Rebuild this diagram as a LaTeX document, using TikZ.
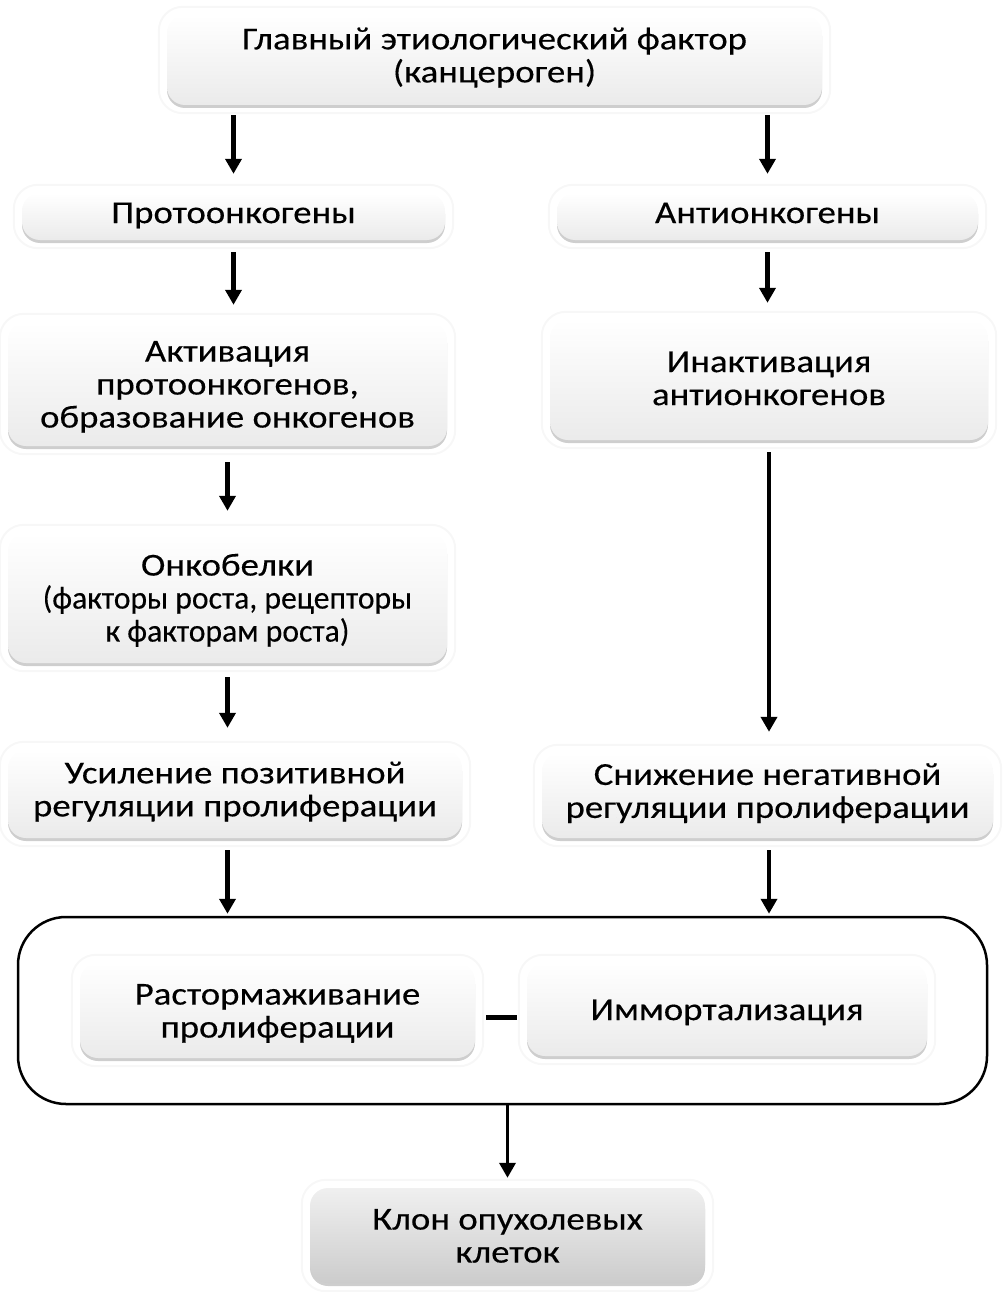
\documentclass[tikz,border=0pt]{standalone}
\usepackage{fontspec}
\usepackage{graphicx}
\setmainfont{Carlito}[FakeStretch=1.15,FakeBold=0.3]
\usetikzlibrary{shadows,arrows.meta,backgrounds}
\newcommand{\narrow}[1]{\scalebox{0.86}[1]{#1}}
\newcommand{\up}{\rule{0pt}{31pt}}
\newcommand{\upsmall}{\rule{0pt}{27pt}}
\begin{document}
\begin{tikzpicture}[x=1pt,y=-1pt,
  box/.style={rounded corners=18pt, top color=white, bottom color=gray!16,
    drop shadow={shadow xshift=0pt,shadow yshift=-3pt,opacity=.55,fill=gray!70},
    align=center, inner sep=0pt, font=\fontsize{32}{33}\selectfont,
    execute at begin node=\strut, execute at end node=\strut},
  darkbox/.style={box, top color=gray!12, bottom color=gray!40},
  arr/.style={-{Triangle[width=16pt,length=15pt]}, line width=4.5pt, black},
  halo/.style={draw=gray!6, line width=2pt, rounded corners=24pt}]
\useasboundingbox (0,0) rectangle (1003,1292);
\node[box, minimum width=655pt, minimum height=90pt] (top) at (494.5,60)
  {Главный этиологический фактор\\(канцероген)};
\node[box, minimum width=423pt, minimum height=47pt] (proto) at (233.5,216.5) {Протоонкогены};
\node[box, minimum width=421pt, minimum height=47pt] (anti) at (767.5,216.5) {Антионкогены};
\node[box, minimum width=439pt, minimum height=124pt] (activ) at (227.5,384)
  {\up Активация\\протоонкогенов,\\образование онкогенов};
\node[box, minimum width=438pt, minimum height=120pt] (inact) at (769,380)
  {\upsmall Инактивация\\антионкогенов};
\node[box, minimum width=439pt, minimum height=130pt] (onko) at (227.5,598)
  {\up Онкобелки\\\narrow{(факторы роста, рецепторы}\\\narrow{к факторам роста)}};
\node[box, minimum width=454pt, minimum height=88pt] (usil) at (235,794)
  {Усиление позитивной\\регуляции пролиферации};
\node[box, minimum width=451pt, minimum height=85pt] (snizh) at (767.5,795.5)
  {Снижение негативной\\регуляции пролиферации};
\node[draw, line width=2.5pt, rounded corners=48pt, minimum width=969pt, minimum height=187pt] (frame) at (502.5,1010.5) {};
\node[box, minimum width=395pt, minimum height=95pt] (rastor) at (277.5,1010.5)
  {\up Растормаживание\\пролиферации};
\node[box, minimum width=400pt, minimum height=93pt] (immort) at (727,1009.5) {\up Иммортализация};
\node[darkbox, minimum width=395pt, minimum height=95pt] (klon) at (507.5,1235.5)
  {\up Клон опухолевых\\клеток};
\begin{scope}[on background layer]
\foreach \n in {top,proto,anti,activ,inact,onko,usil,snizh,rastor,immort,klon}
  \draw[halo] ([shift={(-8pt,8pt)}]\n.north west) rectangle ([shift={(8pt,-8pt)}]\n.south east);
\end{scope}
\draw[arr, shorten <=10pt, shorten >=19pt] (top.south -| proto.north) -- (proto.north);
\draw[arr, shorten <=10pt, shorten >=19pt] (top.south -| anti.north) -- (anti.north);
\draw[arr, shorten <=12pt, shorten >=17pt] (proto.south) -- (proto.south |- activ.north);
\draw[arr, shorten <=12pt, shorten >=17pt] (anti.south) -- (anti.south |- inact.north);
\draw[arr, shorten <=16pt, shorten >=22pt] (activ.south) -- (onko.north);
\draw[arr, shorten <=14pt, shorten >=22pt] (onko.south) -- (onko.south |- usil.north);
\draw[arr, shorten <=12pt, shorten >=21pt] (inact.south) -- (inact.south |- snizh.north);
\draw[arr, shorten <=12pt, shorten >=2pt] (usil.south -| onko.south) -- (onko.south |- frame.north);
\draw[arr, shorten <=12pt, shorten >=2pt] (snizh.south -| inact.south) -- (inact.south |- frame.north);
\draw[arr, line width=3.5pt, shorten >=10pt] (frame.south -| klon.north) -- (klon.north);
\draw[line width=5pt, shorten <=11pt, shorten >=10pt] ([yshift=-7pt]rastor.east) -- ([yshift=-7pt]rastor.east -| immort.west);
\end{tikzpicture}
\end{document}
